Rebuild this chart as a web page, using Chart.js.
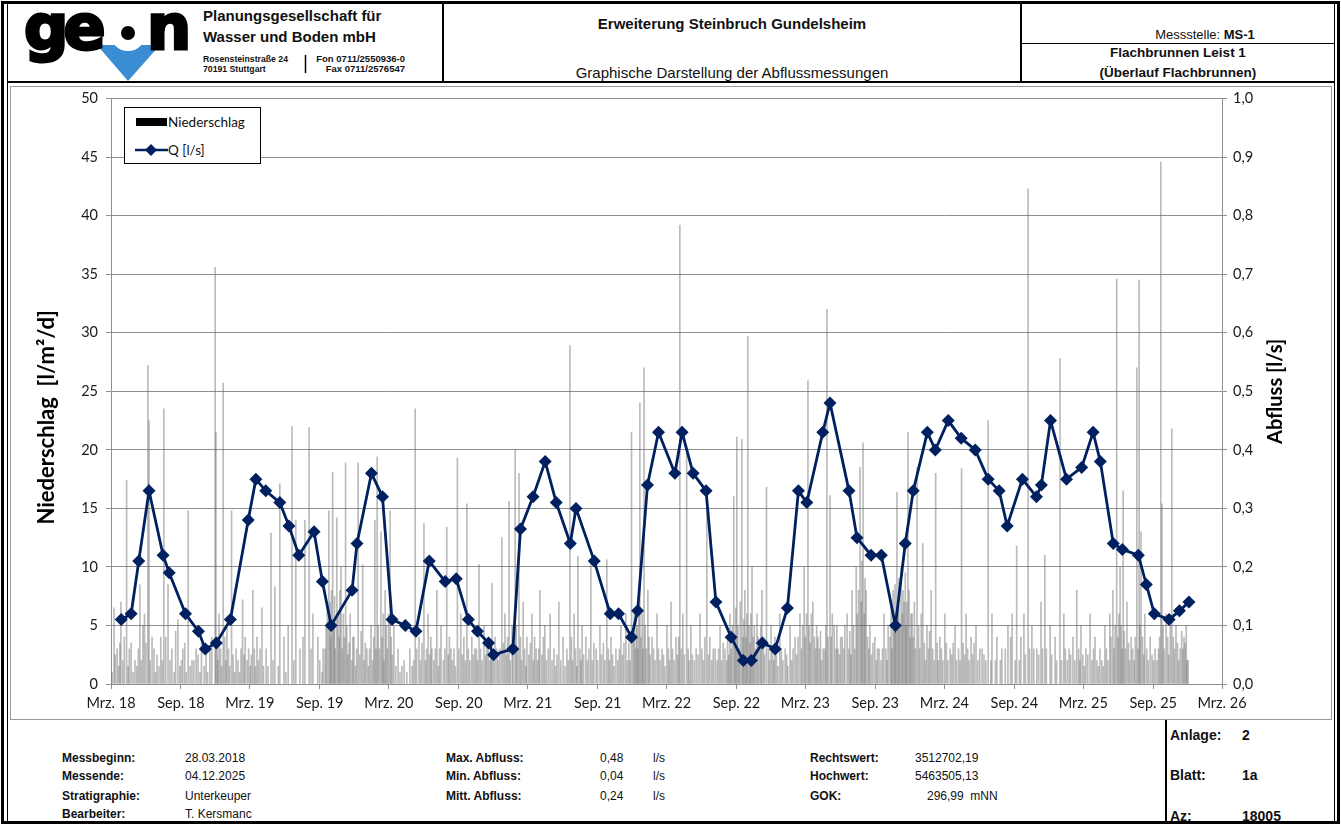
<!DOCTYPE html>
<html lang="de">
<head>
<meta charset="utf-8">
<title>Abflussmessungen MS-1</title>
<script src="https://cdn.jsdelivr.net/npm/chart.js@4.4.1/dist/chart.umd.min.js"></script>
<style>
html, body { margin: 0; padding: 0; background: #fff; }
body { width: 1341px; height: 825px; position: relative; overflow: hidden; font-family: "Liberation Sans", Arial, sans-serif; color: #111; }
.abs { position: absolute; white-space: nowrap; }
.linie { position: absolute; background: #000; }
.fuss { font-size: 12px; line-height: 14px; }
.gross { font-size: 14px; line-height: 17px; font-weight: bold; }
</style>
</head>
<body>

<!-- Rahmen -->
<div class="abs" style="left:1px;top:1px;width:1339px;height:823px;border:3px solid #000;box-sizing:border-box;"></div>
<div class="linie" style="left:7px;top:4px;width:1px;height:817px;"></div>
<div class="linie" style="left:1334px;top:4px;width:1px;height:817px;"></div>
<div class="linie" style="left:7px;top:81px;width:1328px;height:2px;"></div>
<div class="linie" style="left:442px;top:4px;width:2px;height:78px;"></div>
<div class="linie" style="left:1020px;top:4px;width:2px;height:78px;"></div>
<div class="linie" style="left:1021px;top:43px;width:313px;height:1px;"></div>
<div class="abs" style="left:10px;top:86px;width:1322px;height:634px;border:1px solid #9a9a9a;box-sizing:border-box;"></div>
<div class="linie" style="left:1165px;top:720px;width:2px;height:101px;"></div>

<!-- Logo -->
<svg class="abs" style="left:0;top:0" width="440" height="82">
  <polygon points="97,45 160,45 128,81" fill="#3a8dd3"/>
  <circle cx="128" cy="33" r="18" fill="#fff"/>
  <text x="24" y="49" font-family="DejaVu Sans" font-weight="bold" font-size="62" letter-spacing="-5" fill="#000" stroke="#000" stroke-width="3">ge</text>
  <text x="147" y="49" font-family="DejaVu Sans" font-weight="bold" font-size="62" fill="#000" stroke="#000" stroke-width="3">n</text>
  <circle cx="128" cy="33" r="7" fill="#000"/>
  <line x1="305.5" y1="55" x2="305.5" y2="73" stroke="#000" stroke-width="1.5"/>
</svg>
<div class="abs" style="left:203px;top:7px;font-weight:bold;font-size:15px;line-height:17px;">Planungsgesellschaft für</div>
<div class="abs" style="left:203px;top:28px;font-weight:bold;font-size:15px;line-height:17px;">Wasser und Boden mbH</div>
<div class="abs" style="left:203px;top:54px;font-weight:bold;font-size:8.7px;line-height:10px;">Rosensteinstraße 24</div>
<div class="abs" style="left:203px;top:64px;font-weight:bold;font-size:8.7px;line-height:10px;">70191 Stuttgart</div>
<div class="abs" style="left:300px;top:54px;width:105px;text-align:right;font-weight:bold;font-size:9.5px;line-height:10px;">Fon 0711/2550936-0</div>
<div class="abs" style="left:300px;top:64px;width:105px;text-align:right;font-weight:bold;font-size:9.5px;line-height:10px;">Fax 0711/2576547</div>

<!-- Kopf Mitte / rechts -->
<div class="abs" style="left:444px;top:15px;width:576px;text-align:center;font-weight:bold;font-size:15px;line-height:18px;">Erweiterung Steinbruch Gundelsheim</div>
<div class="abs" style="left:444px;top:64px;width:576px;text-align:center;font-size:15px;line-height:18px;">Graphische Darstellung der Abflussmessungen</div>
<div class="abs" style="left:1090px;top:27px;width:230px;text-align:center;font-size:13px;line-height:16px;">Messstelle: <b>MS-1</b></div>
<div class="abs" style="left:1022px;top:45px;width:312px;text-align:center;font-weight:bold;font-size:13.5px;line-height:16px;">Flachbrunnen Leist 1</div>
<div class="abs" style="left:1022px;top:65px;width:312px;text-align:center;font-weight:bold;font-size:13.5px;line-height:16px;">(Überlauf Flachbrunnen)</div>

<!-- Diagramm -->
<canvas id="diagramm" class="abs" style="left:8px;top:82px;" width="1328" height="638"></canvas>

<!-- Legende -->
<div class="abs" style="left:124px;top:107px;width:137px;height:57px;border:1px solid #000;box-sizing:border-box;background:#fff;"></div>
<div class="abs" style="left:136px;top:118px;width:31px;height:8px;background:#000;"></div>
<div class="abs" style="left:168px;top:113px;font-family:Lato;font-size:13.5px;line-height:18px;color:#111;">Niederschlag</div>
<svg class="abs" style="left:134px;top:142px" width="36" height="16">
  <line x1="1" y1="8" x2="34" y2="8" stroke="#002060" stroke-width="2.5"/>
  <polygon points="17,2 23,8 17,14 11,8" fill="#002060"/>
</svg>
<div class="abs" style="left:168px;top:141px;font-family:Lato;font-size:13.5px;line-height:18px;color:#111;">Q [l/s]</div>

<!-- Fußzeile -->
<div class="abs fuss" style="left:62px;top:751px;"><b>Messbeginn:</b></div>
<div class="abs fuss" style="left:62px;top:769px;"><b>Messende:</b></div>
<div class="abs fuss" style="left:62px;top:789px;"><b>Stratigraphie:</b></div>
<div class="abs fuss" style="left:62px;top:807px;"><b>Bearbeiter:</b></div>
<div class="abs fuss" style="left:185px;top:751px;">28.03.2018</div>
<div class="abs fuss" style="left:185px;top:769px;">04.12.2025</div>
<div class="abs fuss" style="left:185px;top:789px;">Unterkeuper</div>
<div class="abs fuss" style="left:185px;top:807px;">T. Kersmanc</div>

<div class="abs fuss" style="left:446px;top:751px;"><b>Max. Abfluss:</b></div>
<div class="abs fuss" style="left:446px;top:769px;"><b>Min. Abfluss:</b></div>
<div class="abs fuss" style="left:446px;top:789px;"><b>Mitt. Abfluss:</b></div>
<div class="abs fuss" style="left:600px;top:751px;">0,48</div>
<div class="abs fuss" style="left:600px;top:769px;">0,04</div>
<div class="abs fuss" style="left:600px;top:789px;">0,24</div>
<div class="abs fuss" style="left:653px;top:751px;">l/s</div>
<div class="abs fuss" style="left:653px;top:769px;">l/s</div>
<div class="abs fuss" style="left:653px;top:789px;">l/s</div>

<div class="abs fuss" style="left:810px;top:751px;"><b>Rechtswert:</b></div>
<div class="abs fuss" style="left:810px;top:769px;"><b>Hochwert:</b></div>
<div class="abs fuss" style="left:810px;top:789px;"><b>GOK:</b></div>
<div class="abs fuss" style="left:915px;top:751px;">3512702,19</div>
<div class="abs fuss" style="left:915px;top:769px;">5463505,13</div>
<div class="abs fuss" style="left:927px;top:789px;">296,99&nbsp; mNN</div>

<div class="abs gross" style="left:1170px;top:727px;">Anlage:</div>
<div class="abs gross" style="left:1242px;top:727px;">2</div>
<div class="abs gross" style="left:1170px;top:767px;">Blatt:</div>
<div class="abs gross" style="left:1242px;top:767px;">1a</div>
<div class="abs gross" style="left:1170px;top:808px;">Az:</div>
<div class="abs gross" style="left:1242px;top:808px;">18005</div>

<script>
// Abflussmessungen Q [l/s]
const qDaten = [
    '28.03.2018', '23.04.2018', '13.05.2018', '09.06.2018', '16.07.2018', '01.08.2018',
    '13.09.2018', '17.10.2018', '04.11.2018', '03.12.2018', '09.01.2019', '25.02.2019',
    '17.03.2019', '12.04.2019', '19.05.2019', '12.06.2019', '08.07.2019', '17.08.2019',
    '08.09.2019', '01.10.2019', '25.11.2019', '08.12.2019', '15.01.2020', '13.02.2020',
    '09.03.2020', '13.04.2020', '11.05.2020', '15.06.2020', '27.07.2020', '25.08.2020',
    '26.09.2020', '20.10.2020', '18.11.2020', '01.12.2020', '21.01.2021', '10.02.2021',
    '15.03.2021', '16.04.2021', '15.05.2021', '21.06.2021', '06.07.2021', '23.08.2021',
    '04.10.2021', '26.10.2021', '29.11.2021', '15.12.2021', '10.01.2022', '08.02.2022',
    '23.03.2022', '11.04.2022', '10.05.2022', '13.06.2022', '09.07.2022', '18.08.2022',
    '19.09.2022', '10.10.2022', '08.11.2022', '12.12.2022', '13.01.2023', '11.02.2023',
    '05.03.2023', '16.04.2023', '05.05.2023', '24.06.2023', '15.07.2023', '21.08.2023',
    '17.09.2023', '24.10.2023', '19.11.2023', '10.12.2023', '16.01.2024', '06.02.2024',
    '11.03.2024', '14.04.2024', '21.05.2024', '24.06.2024', '23.07.2024', '13.08.2024',
    '22.09.2024', '29.10.2024', '11.11.2024', '05.12.2024', '16.01.2025', '25.02.2025',
    '27.03.2025', '15.04.2025', '19.05.2025', '12.06.2025', '24.07.2025', '14.08.2025',
    '04.09.2025', '13.10.2025', '09.11.2025', '04.12.2025'
];
const qWerte = [
    0.11, 0.12, 0.21, 0.33, 0.22, 0.19,
    0.12, 0.09, 0.06, 0.07, 0.11, 0.28,
    0.35, 0.33, 0.31, 0.27, 0.22, 0.26,
    0.175, 0.10, 0.16, 0.24, 0.36, 0.32,
    0.11, 0.10, 0.09, 0.21, 0.175, 0.18,
    0.11, 0.09, 0.07, 0.05, 0.06, 0.265,
    0.32, 0.38, 0.31, 0.24, 0.30, 0.21,
    0.12, 0.12, 0.08, 0.125, 0.34, 0.43,
    0.36, 0.43, 0.36, 0.33, 0.14, 0.08,
    0.04, 0.04, 0.07, 0.06, 0.13, 0.33,
    0.31, 0.43, 0.48, 0.33, 0.25, 0.22,
    0.22, 0.10, 0.24, 0.33, 0.43, 0.40,
    0.45, 0.42, 0.40, 0.35, 0.33, 0.27,
    0.35, 0.32, 0.34, 0.45, 0.35, 0.37,
    0.43, 0.38, 0.24, 0.23, 0.22, 0.17,
    0.12, 0.11, 0.125, 0.14
];

// Niederschlag [l/m²/d], Tag gezählt ab 01.03.2018 - größere Tageswerte
const nsTage = [
    8, 16, 26, 41, 53, 63, 76, 84, 97, 100, 108, 121, 139, 150, 160, 176, 189, 203, 213, 229,
    245, 260, 274, 276, 284, 295, 305, 317, 329, 346, 358, 373, 384, 397, 408, 421, 431, 444, 455, 466,
    476, 486, 497, 510, 521, 531, 544, 563, 573, 583, 594, 605, 617, 629, 639, 650, 662, 673, 684, 694,
    700, 710, 721, 734, 744, 755, 771, 786, 800, 810, 823, 834, 844, 857, 868, 883, 894, 911, 920, 936,
    949, 957, 968, 981, 992, 1002, 1015, 1028, 1036, 1047, 1055, 1063, 1073, 1084, 1094, 1107, 1118, 1128, 1141, 1155,
    1165, 1178, 1189, 1207, 1218, 1228, 1239, 1249, 1262, 1276, 1286, 1304, 1315, 1328, 1341, 1354, 1369, 1381, 1391, 1402,
    1412, 1423, 1436, 1449, 1462, 1473, 1486, 1496, 1504, 1514, 1525, 1539, 1549, 1567, 1575, 1589, 1602, 1615, 1628, 1638,
    1646, 1659, 1667, 1675, 1686, 1699, 1712, 1724, 1736, 1746, 1759, 1773, 1786, 1799, 1812, 1823, 1833, 1846, 1859, 1873,
    1883, 1891, 1902, 1912, 1923, 1936, 1949, 1960, 1970, 1978, 1986, 1996, 2009, 2020, 2033, 2044, 2057, 2067, 2078, 2086,
    2096, 2107, 2120, 2135, 2146, 2157, 2169, 2180, 2193, 2207, 2220, 2237, 2249, 2262, 2275, 2291, 2307, 2317, 2330, 2343,
    2359, 2370, 2382, 2393, 2401, 2412, 2422, 2435, 2446, 2456, 2470, 2483, 2496, 2506, 2520, 2530, 2540, 2551, 2564, 2575,
    2588, 2601, 2614, 2627, 2635, 2645, 2654, 2662, 2672, 2683, 2698, 2704, 2709, 2719, 2733, 2746, 2761, 2764, 2775, 2790,
    2801, 2812, 2822, 2830
];
const nsWerte = [
    6.5, 3, 7, 17.4, 3.5, 2, 8.5, 5, 27.2, 22.5, 4, 2.5, 23.5, 8.5, 3, 5.5, 3, 14.8, 2, 2.5,
    1.5, 3, 35.6, 21.5, 6, 25.7, 5, 14.8, 3, 7.2, 2, 8, 4, 6.5, 3, 12.9, 8.3, 17.1, 4, 5,
    22, 14, 3, 14, 21.9, 6, 4, 3, 14.8, 18.1, 14.2, 10, 18.9, 6, 4, 18.9, 10.2, 3, 5, 14,
    19.4, 13, 8, 14.8, 5, 3, 2, 3, 23.5, 4, 13.7, 6, 3, 8, 5, 13.4, 3, 19.3, 6, 15.4,
    4, 3, 10.2, 5, 4, 8.6, 3, 12.5, 6, 15.6, 5, 20, 18, 7, 4, 6, 3, 8, 5, 6,
    3, 7, 4, 28.9, 6, 10.9, 5, 4, 10.6, 3, 5, 10.6, 4, 3, 5, 6, 21.5, 6, 24, 27,
    8, 4, 6, 3, 5, 7, 4, 39.2, 6, 19.7, 5, 3, 6, 15.4, 4, 3, 5, 3, 6, 16,
    21.1, 20.9, 8, 29.7, 10, 6, 8, 16.8, 5, 4, 6, 3, 5, 4, 6, 10, 25.9, 7, 4, 3,
    32, 16.1, 5, 3, 4, 6, 8, 10, 18.5, 20.6, 8, 5, 4, 3, 6, 5, 8, 16.4, 10, 7,
    21.5, 6, 18.5, 12, 5, 8, 18, 4, 6, 3, 5, 18.4, 6, 4, 5, 3, 22.5, 6, 4, 3,
    5, 6, 11.8, 4, 6, 42.3, 5, 3, 7, 11, 5, 4, 27.8, 6, 3, 4, 8, 5, 3, 6,
    4, 3, 5, 6, 8, 34.6, 10, 16.5, 7, 4, 27, 34.5, 13, 6, 4, 3, 44.6, 15.4, 6, 21.8,
    5, 3, 4, 2
];

// Niederschlag - kleinere Tageswerte (dichter Bereich am Boden)
const nsTageKlein = [
    3, 11, 20, 23, 31, 35, 45, 48, 58, 68, 72, 80, 88, 92, 103, 113, 117, 126, 131, 135,
    144, 155, 166, 170, 181, 185, 194, 198, 208, 218, 224, 234, 238, 250, 254, 265,
    279, 281, 288, 291, 299, 302, 309, 312, 321, 325, 334, 338, 342, 350, 353, 362, 366, 369, 377, 380, 388, 392, 401,
    413, 426, 440, 460, 481, 505, 526,
    549, 555, 558, 566, 569, 576, 578, 580, 586, 588, 590, 597, 600, 602, 608, 611, 614, 620, 623, 626, 633, 636, 643, 646, 654, 658, 666, 669, 677, 680, 688, 691, 697,
    703, 706, 713, 716, 718, 724, 727, 730, 737, 740, 749, 760, 765, 778, 792, 796, 804, 814, 818, 827, 830, 838, 841, 849, 853, 861, 864,
    874, 878, 887, 890, 898, 902, 906, 915, 924, 928, 932, 940, 944, 953, 961, 964, 972, 976, 985, 988, 996, 999, 1006, 1010, 1019, 1023, 1032, 1040, 1043, 1050, 1058,
    1066, 1069, 1077, 1080, 1088, 1091, 1099, 1103, 1111, 1114, 1122, 1125, 1133, 1137, 1145, 1150, 1160, 1169, 1173, 1183, 1194, 1199, 1203,
    1211, 1214, 1222, 1225, 1233, 1236, 1243, 1253, 1257, 1266, 1270, 1280, 1290, 1295, 1299, 1308, 1311, 1319, 1323, 1333, 1337, 1345, 1349, 1358, 1362, 1365,
    1373, 1376, 1379, 1384, 1386, 1388, 1394, 1397, 1399, 1405, 1408, 1415, 1418, 1427, 1431, 1440, 1444, 1453, 1457, 1466, 1469, 1477, 1481, 1490, 1493, 1500, 1508, 1518, 1521, 1529,
    1534, 1544, 1554, 1558, 1562, 1571, 1580, 1584, 1594, 1598, 1606, 1610, 1619, 1622, 1625, 1631, 1634, 1641, 1643, 1649, 1652, 1655, 1662, 1664, 1670, 1672, 1678, 1681, 1683, 1689, 1692, 1695, 1702,
    1706, 1709, 1716, 1719, 1729, 1732, 1740, 1743, 1750, 1754, 1763, 1767, 1777, 1780, 1790, 1794, 1803, 1807, 1816, 1819, 1826, 1829, 1836, 1839, 1842, 1850, 1853, 1856, 1863, 1866, 1869, 1877, 1880, 1886,
    1894, 1897, 1906, 1909, 1916, 1919, 1927, 1930, 1940, 1943, 1946, 1953, 1956, 1963, 1966, 1973, 1975, 1981, 1983, 1990, 1993, 2000, 2004, 2013, 2016, 2025, 2029, 2038, 2041, 2049, 2052, 2054, 2060, 2062, 2064, 2070, 2072, 2075, 2081, 2083, 2089, 2091, 2093, 2099, 2102,
    2104, 2110, 2113, 2116, 2124, 2127, 2131, 2139, 2142, 2150, 2153, 2161, 2165, 2173, 2176, 2184, 2188, 2197, 2201, 2211, 2215, 2224, 2229, 2233, 2241, 2245, 2253, 2257, 2266, 2270, 2280, 2285, 2296,
    2301, 2314, 2326, 2339, 2352, 2366, 2378, 2389, 2405, 2416, 2427, 2440, 2450, 2460, 2474, 2487,
    2500, 2510, 2515, 2524, 2535, 2545, 2548, 2556, 2560, 2569, 2580, 2584, 2593, 2597, 2606, 2610, 2618, 2622, 2630, 2638, 2641, 2648, 2651, 2657, 2659, 2665, 2668, 2676, 2679, 2687, 2691, 2694,
    2701, 2706, 2713, 2716, 2724, 2728, 2738, 2742, 2751, 2755, 2758, 2767, 2770, 2779, 2782, 2786, 2794, 2797, 2805, 2808, 2816, 2819, 2825, 2828, 2833
];
const nsWerteKlein = [
    1, 2.5, 1.5, 3.5, 2, 4, 1.5, 3, 1, 1.5, 3, 2, 6, 3.5, 2, 3, 1, 1.5, 4, 2,
    4, 2, 1, 4.5, 1.5, 2, 3.5, 1, 1.5, 2, 3, 1, 3.5, 2.5, 1, 4,
    4, 2, 3, 1.5, 4, 2, 3, 1.5, 2.5, 1, 2, 1, 3, 2.5, 4, 3, 1.5, 2.5, 3, 1.5, 2, 3, 1.5,
    1.5, 2, 1.5, 1, 2, 4, 3,
    2, 1, 3, 5, 6.5, 7, 4, 8, 5, 7.5, 3, 6, 4, 8, 3, 6, 4, 5, 2.5, 3.5, 2, 4, 1.5, 3, 2.5, 4.5, 2, 3.5, 1.5, 3, 2, 4, 3,
    5, 3, 4, 6, 2, 5, 3, 6, 4, 2.5, 1.5, 1, 1.5, 1, 1.5, 2, 3, 2, 3.5, 2, 3, 2.5, 4, 2, 3, 1.5, 3,
    2, 3, 2.5, 4, 2, 3, 1.5, 3, 2.5, 4, 2, 3, 2, 2.5, 3, 2, 3, 2, 2.5, 3.5, 2, 3, 2.5, 4, 2, 3, 3.5, 2.5, 4, 2, 3,
    5, 3, 4, 2, 3, 1.5, 2.5, 3.5, 2, 4, 2, 3, 2.5, 4, 2, 3, 2, 1.5, 2.5, 2, 1.5, 3, 2,
    4, 2, 3, 1.5, 3, 2, 2.5, 2, 3, 2, 3.5, 2, 2.5, 3.5, 2, 3, 2, 2.5, 1.5, 2, 3, 2.5, 3.5, 2, 3.5, 2,
    4, 6, 3, 5, 3, 7, 4, 6, 3, 5, 3, 4, 2.5, 3, 2, 3, 2, 2.5, 1.5, 3, 2, 3, 2, 2.5, 4, 3, 2.5, 3, 2, 2.5,
    2, 2.5, 3, 2, 4, 2.5, 2, 3, 2, 3, 2, 3.5, 2, 4, 2.5, 3, 5, 4, 6.5, 5, 3, 7, 4, 5.5, 4, 6, 5, 3.5, 6, 4, 5, 3, 4,
    3, 5, 4, 2.5, 3, 2, 3, 2, 2.5, 1.5, 3, 2, 2.5, 1.5, 2, 3, 2.5, 4, 3, 5, 4, 6, 5, 3.5, 6, 4, 3, 5, 3, 4.5, 2, 3, 5, 4,
    4, 6, 3, 5, 2.5, 4, 3, 5, 3, 4.5, 2.5, 5, 3, 6, 8, 7, 10.5, 6, 9, 4, 3, 2.5, 3.5, 2, 3, 2, 3, 3, 2, 4, 6.5, 3, 5, 8.5, 6, 7, 9, 5, 6, 8, 9.5, 5, 7, 8, 4,
    6, 4, 7, 3, 5, 3, 6, 3.5, 2, 3, 4.5, 3, 2, 3.5, 2, 3, 2, 3.5, 2, 2.5, 3.5, 2, 3, 2, 3.5, 2.5, 3, 2, 2.5, 3.5, 2, 3, 2.5,
    2, 2, 2, 2, 3, 4, 2, 2, 2.5, 3, 3, 2.5, 3, 3, 2.5, 2,
    2, 3, 2, 2.5, 2, 3, 2, 2.5, 1.5, 2.5, 2, 3, 2, 1.5, 2, 1.5, 3, 2, 4, 3, 5, 4, 6, 5, 3, 4.5, 3, 3.5, 2, 3, 2, 4,
    3, 5, 4, 2.5, 3, 2, 2.5, 2, 2, 3, 4, 5, 3, 4, 2.5, 5, 4, 3, 3.5, 2, 4.5, 3, 3.5, 5, 2
];

const xTickDaten = [
    '01.03.2018', '01.09.2018', '01.03.2019', '01.09.2019', '01.03.2020', '01.09.2020',
    '01.03.2021', '01.09.2021', '01.03.2022', '01.09.2022', '01.03.2023', '01.09.2023',
    '01.03.2024', '01.09.2024', '01.03.2025', '01.09.2025', '01.03.2026'
];
const xTickLabels = [
    'Mrz. 18', 'Sep. 18', 'Mrz. 19', 'Sep. 19', 'Mrz. 20', 'Sep. 20',
    'Mrz. 21', 'Sep. 21', 'Mrz. 22', 'Sep. 22', 'Mrz. 23', 'Sep. 23',
    'Mrz. 24', 'Sep. 24', 'Mrz. 25', 'Sep. 25', 'Mrz. 26'
];

const titelLinks = 'Niederschlag  [l/m²/d]';
const titelRechts = 'Abfluss [l/s]';

const tagNr = (s) => {
    const [d, m, y] = s.split('.').map(Number);
    return (Date.UTC(y, m - 1, d) - Date.UTC(2018, 2, 1)) / 864e5;
};

const gitterFarbe = '#8f8f8f';
const tickFont = { family: 'Lato', size: 14.5 };

const niederschlag = nsTage.map((t, i) => ({ x: t, y: nsWerte[i] }))
    .concat(nsTageKlein.map((t, i) => ({ x: t, y: nsWerteKlein[i] })));

// Achsentitel (beide von unten nach oben gedreht, wie im Original)
const achsenTitel = {
    id: 'achsenTitel',
    afterDraw(chart) {
        const { ctx, chartArea } = chart;
        const mitte = (chartArea.top + chartArea.bottom) / 2;
        ctx.save();
        ctx.fillStyle = '#000';
        ctx.textAlign = 'center';
        ctx.textBaseline = 'middle';

        ctx.save();
        ctx.font = 'bold 22px Lato';
        ctx.translate(39, mitte + 26);
        ctx.rotate(-Math.PI / 2);
        ctx.fillText(titelLinks, 0, 0);
        ctx.restore();

        ctx.save();
        ctx.font = 'bold 20px Lato';
        ctx.translate(1268, mitte);
        ctx.rotate(-Math.PI / 2);
        ctx.fillText(titelRechts, 0, 0);
        ctx.restore();

        ctx.restore();
    }
};

const ctx = document.getElementById('diagramm').getContext('2d');

const myChart = new Chart(ctx, {
    type: 'bar',
    data: {
        datasets: [
            {
                type: 'line',
                label: 'Q [l/s]',
                data: qDaten.map((d, i) => ({ x: tagNr(d), y: qWerte[i] })),
                yAxisID: 'y1',
                borderColor: '#002060',
                backgroundColor: '#002060',
                borderWidth: 2.8,
                pointStyle: 'rectRot',
                pointRadius: 6.5,
                pointBorderWidth: 0,
                tension: 0,
                order: 0,
            }, {
                type: 'bar',
                label: 'Niederschlag',
                data: niederschlag,
                yAxisID: 'y',
                backgroundColor: 'rgba(105,105,105,0.45)',
                barThickness: 1,
                grouped: false,
                order: 1,
            },
        ]
    },
    options: {
        responsive: false,
        animation: false,
        devicePixelRatio: 1,
        layout: { padding: { top: 10, left: 0, right: 0, bottom: 0 } },
        plugins: {
            legend: { display: false },
            tooltip: { enabled: false },
        },
        scales: {
            x: {
                type: 'linear',
                offset: false,
                min: 0,
                max: tagNr('01.03.2026'),
                afterBuildTicks: (scale) => {
                    scale.ticks = xTickDaten.map((d) => ({ value: tagNr(d) }));
                },
                afterFit: (scale) => { scale.height = 36; },
                ticks: {
                    callback: (value, i) => xTickLabels[i],
                    autoSkip: false,
                    maxRotation: 0,
                    padding: 6,
                    color: '#1a1a1a',
                    font: tickFont,
                },
                grid: { offset: false, drawOnChartArea: false, tickLength: 5, color: gitterFarbe },
                border: { color: gitterFarbe },
            },
            y: {
                position: 'left',
                min: 0,
                max: 50,
                afterFit: (scale) => { scale.width = 103; },
                ticks: { stepSize: 5, padding: 8, color: '#1a1a1a', font: tickFont },
                grid: { color: gitterFarbe, tickLength: 5 },
                border: { color: gitterFarbe },
            },
            y1: {
                position: 'right',
                min: 0,
                max: 1,
                afterFit: (scale) => { scale.width = 114; },
                ticks: {
                    stepSize: 0.1,
                    padding: 6,
                    color: '#1a1a1a',
                    font: tickFont,
                    callback: (value) => value.toFixed(1).replace('.', ','),
                },
                grid: { drawOnChartArea: false, tickLength: 5, color: gitterFarbe },
                border: { color: gitterFarbe },
            },
        },
    },
    plugins: [achsenTitel],
});
</script>
</body>
</html>
